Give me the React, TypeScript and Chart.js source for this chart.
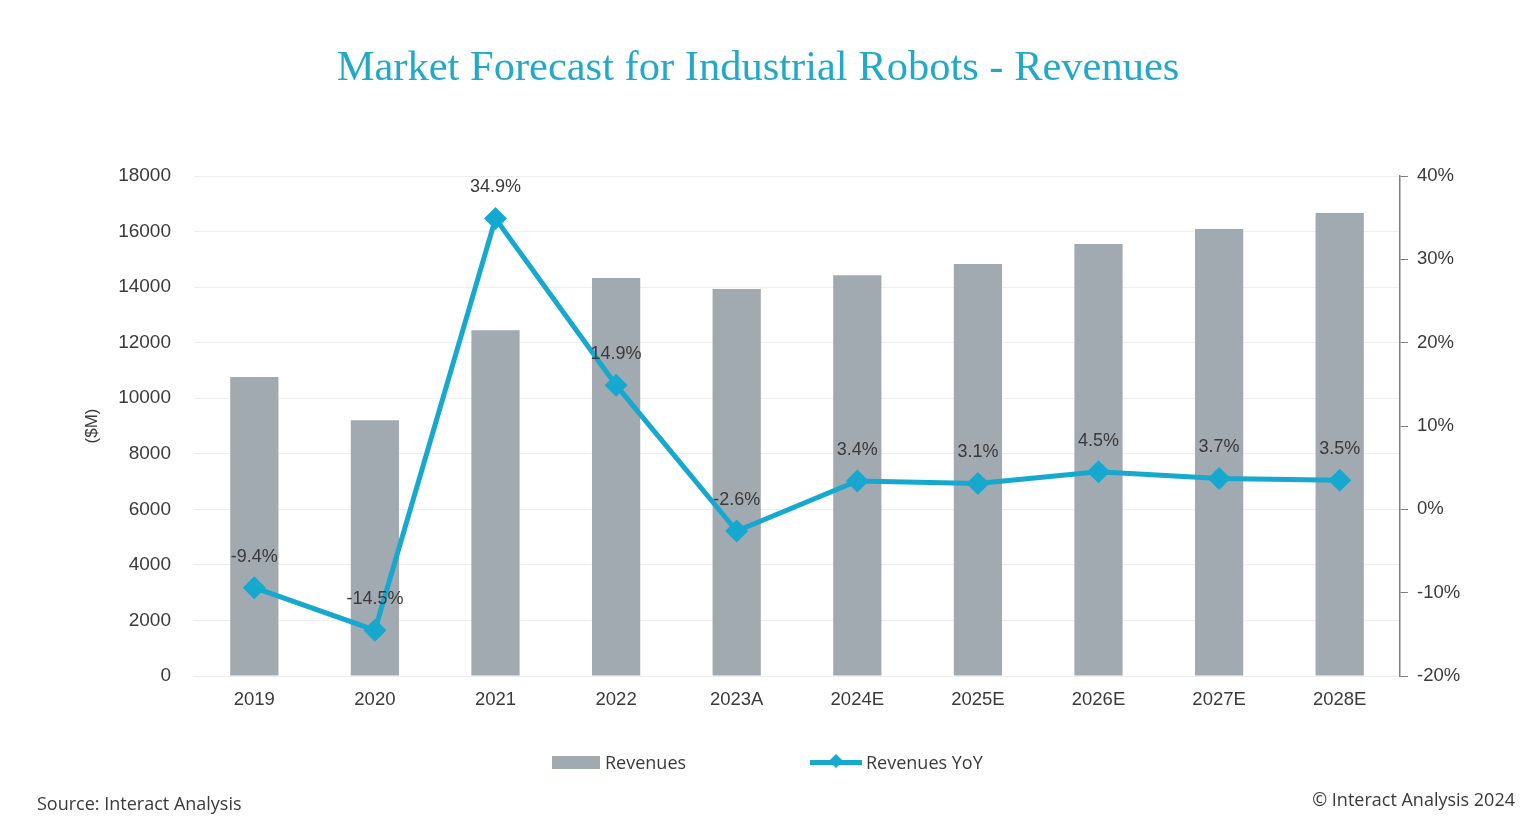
import { useEffect, useRef } from 'react';
import { Chart, ChartConfiguration, Plugin, registerables } from 'chart.js';

Chart.register(...registerables);

const years = ['2019', '2020', '2021', '2022', '2023A', '2024E', '2025E', '2026E', '2027E', '2028E'];
const revenues = [10760, 9210, 12450, 14330, 13930, 14430, 14830, 15550, 16090, 16670];
const revenuesYoY = [-9.4, -14.5, 34.9, 14.9, -2.6, 3.4, 3.1, 4.5, 3.7, 3.5];

const BAR_GRAY = '#a2aab1';
const LINE_BLUE = '#16a8cf';
const TEXT_DARK = '#3a3a3a';
const AXIS_FONT = "'Liberation Sans', Arial, sans-serif";

// percentage labels above each YoY point
const yoyLabels: Plugin = {
  id: 'yoyLabels',
  afterDatasetsDraw(chart) {
    const meta = chart.getDatasetMeta(1);
    const ctx = chart.ctx;
    ctx.save();
    ctx.font = `18px ${AXIS_FONT}`;
    ctx.fillStyle = TEXT_DARK;
    ctx.textAlign = 'center';
    ctx.textBaseline = 'middle';
    meta.data.forEach((pt, i) => {
      ctx.fillText(revenuesYoY[i].toFixed(1) + '%', pt.x, pt.y - 31);
    });
    ctx.restore();
  },
};

export default function App() {
  const canvasRef = useRef<HTMLCanvasElement>(null);
  const chartRef = useRef<Chart | null>(null);

  useEffect(() => {
    if (!canvasRef.current) return;
    const ctx = canvasRef.current.getContext('2d');
    if (!ctx) return;
    if (chartRef.current) chartRef.current.destroy();

    const config: ChartConfiguration = {
      type: 'bar',
      data: {
        labels: years,
        datasets: [
          {
            type: 'bar',
            label: 'Revenues',
            data: revenues,
            backgroundColor: BAR_GRAY,
            barPercentage: 0.4,
            categoryPercentage: 1,
            yAxisID: 'y',
            order: 2,
          },
          {
            type: 'line',
            label: 'Revenues YoY',
            data: revenuesYoY,
            borderColor: LINE_BLUE,
            backgroundColor: LINE_BLUE,
            borderWidth: 5,
            pointStyle: 'rectRot',
            pointRadius: 8,
            pointHoverRadius: 8,
            tension: 0,
            yAxisID: 'y1',
            order: 1,
          },
        ],
      },
      options: {
        responsive: false,
        animation: false,
        maintainAspectRatio: false,
        layout: { padding: { left: 78, right: 0, top: 176, bottom: 100 } },
        plugins: {
          legend: { display: false },
          tooltip: { enabled: false },
        },
        scales: {
          x: {
            grid: { display: false, drawTicks: false },
            border: { display: false },
            ticks: { color: TEXT_DARK, font: { family: AXIS_FONT, size: 18.5 }, padding: 13 },
            afterFit: (s) => { s.height = 60; },
          },
          y: {
            position: 'left',
            min: 0,
            max: 18000,
            ticks: {
              stepSize: 2000,
              color: TEXT_DARK,
              font: { family: AXIS_FONT, size: 19 },
              padding: 23,
              callback: (v) => String(v),
            },
            grid: { color: '#eeeeee', drawTicks: false },
            border: { display: false },
            title: {
              display: true,
              text: '($M)',
              color: TEXT_DARK,
              font: { family: AXIS_FONT, size: 17 },
              padding: { top: 4, bottom: 0 },
            },
            afterFit: (s) => { s.width = 116; },
          },
          y1: {
            position: 'right',
            min: -20,
            max: 40,
            ticks: {
              stepSize: 10,
              color: TEXT_DARK,
              font: { family: AXIS_FONT, size: 18.5 },
              padding: 9,
              callback: (v) => v + '%',
            },
            grid: { drawOnChartArea: false, drawTicks: true, tickLength: 8, color: '#7f7f7f' },
            border: { display: true, color: '#7f7f7f', width: 1.5 },
            afterFit: (s) => { s.width = 136; },
          },
        },
      },
      plugins: [yoyLabels],
    };

    chartRef.current = new Chart(ctx, config);
    return () => {
      if (chartRef.current) {
        chartRef.current.destroy();
        chartRef.current = null;
      }
    };
  }, []);

  const legendText = { fontFamily: "'Open Sans', 'Noto Sans', sans-serif", fontSize: 18, color: TEXT_DARK };

  return (
    <div style={{ position: 'fixed', left: 0, top: 0, width: 1536, height: 836, background: '#ffffff', overflow: 'hidden' }}>
      <canvas ref={canvasRef} width={1536} height={836} style={{ position: 'absolute', left: 0, top: 0, width: 1536, height: 836 }} />
      <div
        style={{
          position: 'absolute', left: 0, top: 40, width: 1516, textAlign: 'center',
          fontFamily: "'Liberation Serif', 'DejaVu Serif', serif", fontSize: 42.5, color: '#22a9c9',
          lineHeight: '52px',
        }}
      >
        Market Forecast for Industrial Robots - Revenues
      </div>
      {/* legend */}
      <div style={{ position: 'absolute', left: 552, top: 750, height: 24, display: 'flex', alignItems: 'center' }}>
        <span style={{ display: 'inline-block', width: 48, height: 13, background: BAR_GRAY, marginRight: 5 }} />
        <span style={legendText}>Revenues</span>
      </div>
      <div style={{ position: 'absolute', left: 810, top: 750, height: 24, display: 'flex', alignItems: 'center' }}>
        <span style={{ position: 'relative', display: 'inline-block', width: 52, height: 5, background: LINE_BLUE, marginRight: 4 }}>
          <span style={{ position: 'absolute', left: 21, top: -3.5, width: 10, height: 10, background: LINE_BLUE, transform: 'rotate(45deg)' }} />
        </span>
        <span style={legendText}>Revenues YoY</span>
      </div>
      <div style={{ position: 'absolute', left: 37, top: 791, ...legendText }}>Source: Interact Analysis</div>
      <div style={{ position: 'absolute', right: 21, top: 787, ...legendText }}>© Interact Analysis 2024</div>
    </div>
  );
}
